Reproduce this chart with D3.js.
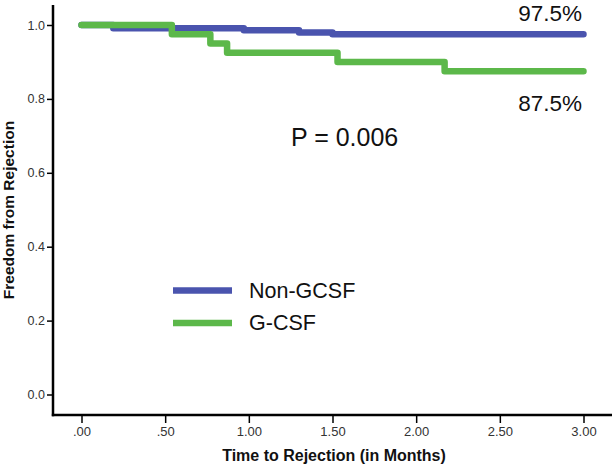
<!DOCTYPE html>
<html>
<head>
<meta charset="utf-8">
<script src="https://cdn.jsdelivr.net/npm/d3@7"></script>
<style>
  body { margin: 0; background: #fff; }
  svg { display: block; font-family: "Liberation Sans", Arial, sans-serif; }
</style>
</head>
<body>
<svg id="chart" width="615" height="468"></svg>
<script>
// Data
const nonGcsfTimes  = [0, 0.19, 0.97, 1.30, 1.50, 3.00];
const nonGcsfValues = [1.0, 0.991, 0.986, 0.980, 0.975, 0.975];
const gcsfTimes  = [0, 0.54, 0.77, 0.87, 1.53, 2.17, 3.00];
const gcsfValues = [1.0, 0.975, 0.950, 0.925, 0.900, 0.875, 0.875];
const xTicks = [0, 0.5, 1.0, 1.5, 2.0, 2.5, 3.0];
const xTickLabels = [".00", ".50", "1.00", "1.50", "2.00", "2.50", "3.00"];
const yTicks = [0, 0.2, 0.4, 0.6, 0.8, 1.0];
const yTickLabels = ["0.0", "0.2", "0.4", "0.6", "0.8", "1.0"];
const seriesNames = ["Non-GCSF", "G-CSF"];
const seriesColors = ["#4a54ae", "#5cb84a"];
const endLabels = ["97.5%", "87.5%"];
const pText = "P = 0.006";

const svg = d3.select("#chart");
const x = d3.scaleLinear().domain([0, 3]).range([81.5, 583.5]);
const y = d3.scaleLinear().domain([0, 1]).range([394.5, 25]);

const axisLeftX = 53, axisBottomY = 415;

// Axes lines
svg.append("line").attr("x1", axisLeftX).attr("x2", axisLeftX).attr("y1", 5).attr("y2", axisBottomY + 1.2)
  .attr("stroke", "#000").attr("stroke-width", 2.5);
svg.append("line").attr("x1", axisLeftX - 1.2).attr("x2", 612).attr("y1", axisBottomY).attr("y2", axisBottomY)
  .attr("stroke", "#000").attr("stroke-width", 2.5);

// Y axis ticks
const yAxis = d3.axisLeft(y).tickValues(yTicks).tickSize(6).tickPadding(2)
  .tickFormat((d, i) => yTickLabels[i]);
const gy = svg.append("g").attr("transform", `translate(${axisLeftX},0)`).call(yAxis);
gy.select(".domain").remove();
gy.selectAll(".tick line").attr("stroke", "#000").attr("stroke-width", 1.5);
gy.selectAll(".tick text").attr("fill", "#333").style("font-size", "12.5px")
  .style("font-family", "Liberation Sans, Arial, sans-serif");

// X axis ticks
const xAxis = d3.axisBottom(x).tickValues(xTicks).tickSize(8).tickPadding(4)
  .tickFormat((d, i) => xTickLabels[i]);
const gx = svg.append("g").attr("transform", `translate(0,${axisBottomY})`).call(xAxis);
gx.select(".domain").remove();
gx.selectAll(".tick line").attr("stroke", "#000").attr("stroke-width", 1.5);
gx.selectAll(".tick text").attr("fill", "#333").style("font-size", "13px")
  .style("font-family", "Liberation Sans, Arial, sans-serif");

// Axis titles
svg.append("text").attr("x", 334).attr("y", 461).attr("text-anchor", "middle")
  .style("font-size", "16px").style("font-weight", "bold").attr("fill", "#111")
  .text("Time to Rejection (in Months)");
svg.append("text").attr("transform", "translate(14,210) rotate(-90)").attr("text-anchor", "middle")
  .style("font-size", "15.5px").style("font-weight", "bold").attr("fill", "#111")
  .text("Freedom from Rejection");

// Curves
const line = d3.line().x(d => x(d[0])).y(d => y(d[1])).curve(d3.curveStepAfter);
const series = [
  d3.zip(nonGcsfTimes, nonGcsfValues),
  d3.zip(gcsfTimes, gcsfValues)
];
series.forEach((s, i) => {
  svg.append("path").datum(s).attr("d", line)
    .attr("fill", "none").attr("stroke", seriesColors[i])
    .attr("stroke-width", 6.5).attr("stroke-linecap", "round").attr("stroke-linejoin", "round");
});

// End labels
svg.append("text").attr("x", 582).attr("y", 21).attr("text-anchor", "end")
  .style("font-size", "22.5px").attr("fill", "#111").text(endLabels[0]);
svg.append("text").attr("x", 582).attr("y", 111).attr("text-anchor", "end")
  .style("font-size", "22.5px").attr("fill", "#111").text(endLabels[1]);

// P value
svg.append("text").attr("x", 291).attr("y", 145.5).attr("text-anchor", "start")
  .style("font-size", "25px").attr("fill", "#111").text(pText);

// Legend
const legendY = [290.5, 323];
seriesNames.forEach((n, i) => {
  svg.append("line").attr("x1", 173).attr("x2", 232).attr("y1", legendY[i]).attr("y2", legendY[i])
    .attr("stroke", seriesColors[i]).attr("stroke-width", 6.5);
  svg.append("text").attr("x", 249).attr("y", legendY[i] + 7)
    .style("font-size", "21.5px").attr("fill", "#111").text(n);
});
</script>
</body>
</html>
